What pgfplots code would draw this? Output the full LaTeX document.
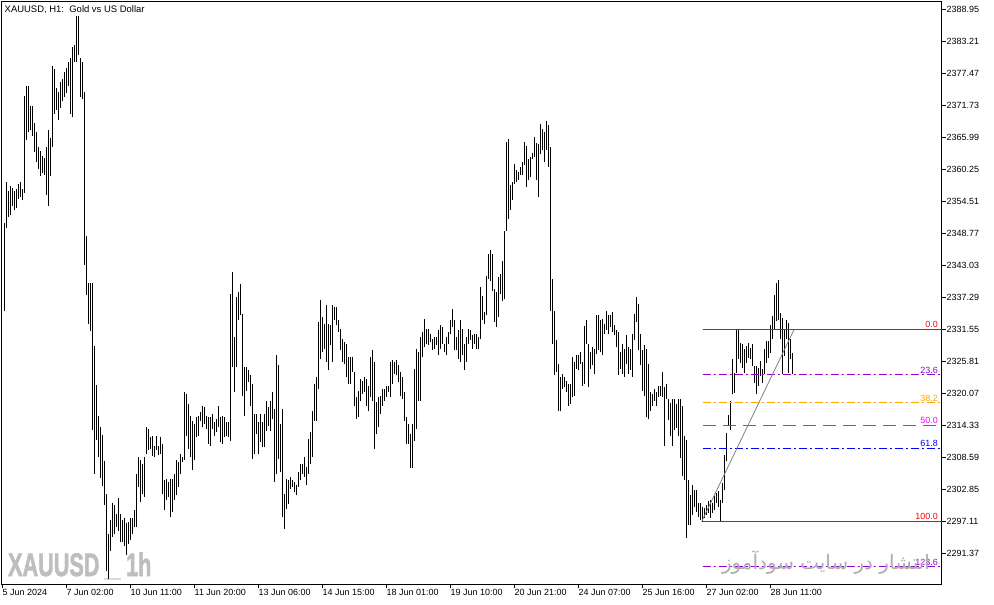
\documentclass[border=0pt]{standalone}
\usepackage{fontspec}
\setmainfont{Liberation Sans}
\newfontfamily\wmfont{Liberation Sans}[BoldFeatures={FakeBold=2}]
\newfontfamily\arabicfont[Script=Arabic]{DejaVu Sans}
\TeXXeTstate=1
\usepackage{pgfplots}
\usepackage{pgfplotstable}
\pgfplotsset{compat=1.18}

\definecolor{fibviolet}{RGB}{148,0,211}
\definecolor{fiborange}{RGB}{255,165,0}
\definecolor{fibmag}{RGB}{255,0,255}
\definecolor{wmgray}{RGB}{190,190,190}
\definecolor{wmfa}{RGB}{172,172,172}
\newcommand\labfont{\fontsize{9}{10}\selectfont}

% XAUUSD H1 bars, high / low, one row per hour (oldest first)
\pgfplotstableread[row sep=\\]{
hi lo\\
2350.7 2334.8\\ 2358.0 2349.7\\ 2356.3 2351.7\\ 2357.3 2352.0\\ 2357.0 2353.7\\ 2356.3 2353.0\\
2356.7 2353.4\\ 2357.7 2355.0\\ 2358.0 2355.3\\ 2356.7 2354.7\\ 2373.5 2356.0\\ 2375.2 2365.6\\
2375.2 2366.9\\ 2371.6 2367.3\\ 2371.6 2366.3\\ 2368.6 2363.3\\ 2366.9 2361.6\\ 2364.3 2360.3\\
2363.6 2359.0\\ 2362.6 2359.6\\ 2362.3 2359.3\\ 2364.3 2355.7\\ 2367.3 2353.7\\ 2365.9 2359.0\\
2378.8 2364.3\\ 2378.2 2370.2\\ 2374.9 2370.9\\ 2374.2 2369.2\\ 2375.9 2371.2\\ 2376.5 2372.6\\
2377.8 2373.2\\ 2378.5 2373.9\\ 2379.5 2375.2\\ 2380.2 2370.2\\ 2382.2 2369.6\\ 2382.5 2379.5\\
2387.8 2379.5\\ 2387.8 2380.8\\ 2380.2 2373.2\\ 2379.5 2372.9\\ 2374.2 2343.1\\ 2348.4 2337.8\\
2339.8 2332.5\\ 2339.8 2331.2\\ 2339.8 2313.6\\ 2328.5 2305.7\\ 2321.6 2311.7\\ 2316.0 2308.7\\
2314.0 2305.0\\ 2312.6 2303.4\\ 2308.0 2300.1\\ 2302.0 2288.2\\ 2294.8 2286.8\\ 2297.4 2291.8\\
2300.4 2294.4\\ 2300.1 2294.8\\ 2298.4 2296.1\\ 2301.4 2295.4\\ 2298.4 2293.4\\ 2297.4 2293.4\\
2297.8 2292.8\\ 2296.8 2291.1\\ 2297.1 2293.1\\ 2297.8 2293.8\\ 2297.8 2294.8\\ 2299.1 2296.1\\
2305.7 2296.1\\ 2308.6 2303.3\\ 2308.1 2300.6\\ 2307.5 2302.1\\ 2308.6 2301.5\\ 2314.0 2309.2\\
2313.7 2309.9\\ 2312.2 2310.1\\ 2312.5 2308.9\\ 2310.7 2308.6\\ 2312.5 2309.9\\ 2310.7 2309.0\\
2312.2 2309.2\\ 2311.0 2302.1\\ 2304.5 2299.1\\ 2304.8 2300.9\\ 2304.2 2301.5\\ 2304.8 2297.9\\
2304.8 2298.8\\ 2305.7 2300.9\\ 2308.1 2301.8\\ 2307.7 2303.3\\ 2309.2 2305.7\\ 2308.6 2307.7\\
2320.3 2308.1\\ 2320.0 2312.5\\ 2318.2 2310.1\\ 2316.1 2308.6\\ 2315.2 2306.3\\ 2314.6 2308.1\\
2315.8 2312.2\\ 2316.1 2312.5\\ 2316.7 2315.2\\ 2317.9 2314.0\\ 2317.6 2314.6\\ 2316.1 2313.7\\
2315.8 2311.0\\ 2315.8 2310.7\\ 2316.4 2313.7\\ 2314.9 2312.5\\ 2315.5 2313.1\\ 2317.9 2314.0\\
2315.8 2311.3\\ 2316.1 2311.0\\ 2315.8 2312.2\\ 2314.9 2312.5\\ 2314.9 2312.2\\ 2337.9 2311.6\\
2341.8 2324.8\\ 2330.2 2320.3\\ 2337.3 2324.8\\ 2338.2 2333.2\\ 2339.7 2334.1\\ 2334.4 2319.7\\
2324.8 2316.1\\ 2324.8 2320.6\\ 2324.2 2322.1\\ 2323.3 2317.9\\ 2321.8 2308.4\\ 2316.4 2309.3\\
2316.4 2312.8\\ 2314.9 2309.3\\ 2316.4 2311.3\\ 2315.0 2310.5\\ 2316.4 2310.4\\ 2318.8 2313.4\\
2317.6 2314.3\\ 2318.8 2313.4\\ 2320.3 2315.5\\ 2317.3 2304.2\\ 2326.9 2305.7\\ 2325.1 2308.4\\
2314.6 2305.9\\ 2317.3 2297.9\\ 2302.1 2295.8\\ 2304.8 2299.4\\ 2304.5 2300.3\\ 2305.1 2303.0\\
2304.5 2303.3\\ 2304.2 2302.4\\ 2303.6 2301.8\\ 2306.0 2303.3\\ 2307.5 2304.5\\ 2307.5 2305.7\\
2308.7 2305.1\\ 2306.9 2303.6\\ 2311.9 2305.7\\ 2313.1 2307.5\\ 2317.0 2308.7\\ 2321.8 2315.2\\
2323.0 2315.2\\ 2332.9 2320.9\\ 2336.8 2326.3\\ 2333.8 2327.5\\ 2332.6 2328.1\\ 2335.9 2325.7\\
2332.6 2324.2\\ 2332.3 2328.7\\ 2335.9 2325.7\\ 2335.6 2333.2\\ 2335.6 2332.3\\ 2333.2 2331.1\\
2331.7 2327.8\\ 2329.9 2325.7\\ 2329.3 2325.4\\ 2329.0 2323.0\\ 2326.6 2321.8\\ 2326.6 2321.8\\
2326.6 2323.9\\ 2323.9 2317.9\\ 2319.4 2315.5\\ 2320.6 2315.8\\ 2322.7 2318.8\\ 2322.4 2320.0\\
2323.0 2320.3\\ 2322.7 2317.9\\ 2321.5 2317.0\\ 2326.6 2319.4\\ 2327.8 2318.8\\ 2325.7 2310.2\\
2318.5 2312.8\\ 2319.4 2314.0\\ 2319.7 2316.4\\ 2320.9 2317.9\\ 2320.9 2318.8\\ 2321.5 2319.4\\
2321.5 2320.3\\ 2325.7 2319.4\\ 2326.0 2321.8\\ 2325.7 2323.6\\ 2326.0 2323.3\\ 2325.1 2322.1\\
2323.9 2319.7\\ 2323.0 2319.1\\ 2320.3 2315.2\\ 2315.8 2311.0\\ 2314.6 2311.0\\ 2312.8 2306.7\\
2314.6 2306.7\\ 2324.5 2311.6\\ 2328.1 2313.7\\ 2327.5 2318.8\\ 2330.2 2318.8\\ 2331.1 2326.6\\
2333.5 2328.4\\ 2331.7 2329.0\\ 2331.7 2328.7\\ 2330.8 2329.3\\ 2329.9 2327.8\\ 2330.2 2328.1\\
2330.2 2328.7\\ 2331.4 2326.9\\ 2332.3 2328.1\\ 2332.0 2329.0\\ 2329.0 2327.5\\ 2330.2 2326.9\\
2331.1 2329.0\\ 2333.2 2330.8\\ 2335.3 2332.0\\ 2333.2 2327.8\\ 2330.2 2327.8\\ 2331.4 2326.3\\
2333.2 2325.7\\ 2331.7 2326.9\\ 2329.0 2324.2\\ 2330.2 2325.7\\ 2331.7 2329.0\\ 2331.4 2329.6\\
2330.5 2328.1\\ 2330.8 2329.0\\ 2330.8 2328.1\\ 2330.2 2328.1\\ 2339.1 2329.9\\ 2337.6 2333.2\\
2334.6 2332.6\\ 2341.2 2334.1\\ 2345.1 2340.6\\ 2345.8 2340.3\\ 2345.1 2338.5\\ 2338.8 2332.9\\
2338.2 2332.0\\ 2340.9 2333.8\\ 2341.5 2337.9\\ 2343.9 2336.7\\ 2349.3 2337.0\\ 2365.1 2349.3\\
2365.7 2351.4\\ 2357.4 2352.9\\ 2358.0 2354.7\\ 2361.3 2357.7\\ 2360.1 2358.0\\ 2359.8 2358.3\\
2360.7 2359.2\\ 2361.6 2359.2\\ 2365.1 2361.0\\ 2364.5 2357.1\\ 2362.2 2358.3\\ 2362.5 2358.9\\
2363.2 2362.2\\ 2366.0 2362.5\\ 2365.0 2358.3\\ 2364.9 2355.3\\ 2368.4 2363.1\\ 2367.5 2363.7\\
2366.9 2361.6\\ 2369.0 2363.8\\ 2368.3 2360.7\\ 2364.2 2334.9\\ 2340.6 2329.0\\ 2334.9 2323.3\\
2329.6 2323.9\\ 2325.4 2317.0\\ 2323.0 2317.0\\ 2323.6 2320.9\\ 2323.0 2321.2\\ 2322.4 2320.3\\
2321.8 2317.9\\ 2321.8 2318.2\\ 2326.6 2319.4\\ 2325.7 2319.7\\ 2326.9 2324.5\\ 2326.9 2324.2\\
2327.5 2325.4\\ 2325.7 2321.5\\ 2332.1 2321.8\\ 2333.2 2329.0\\ 2329.0 2321.2\\ 2327.5 2324.5\\
2328.4 2325.1\\ 2328.1 2323.6\\ 2334.1 2327.2\\ 2334.1 2327.8\\ 2333.2 2327.5\\ 2333.5 2326.9\\
2332.6 2330.8\\ 2334.9 2331.4\\ 2334.1 2330.8\\ 2334.1 2332.0\\ 2334.7 2331.1\\ 2332.3 2330.5\\
2331.4 2328.4\\ 2331.1 2323.3\\ 2327.5 2324.5\\ 2329.0 2323.6\\ 2328.1 2323.0\\ 2330.5 2325.4\\
2328.4 2323.6\\ 2328.1 2324.2\\ 2330.8 2323.0\\ 2334.4 2329.6\\ 2337.4 2332.9\\ 2336.2 2327.8\\
2330.8 2325.1\\ 2327.8 2320.6\\ 2328.7 2319.7\\ 2328.1 2315.8\\ 2325.4 2315.5\\ 2320.3 2317.0\\
2320.0 2317.9\\ 2320.9 2318.8\\ 2320.3 2317.9\\ 2321.5 2319.4\\ 2321.5 2319.7\\ 2323.9 2319.4\\
2321.2 2310.7\\ 2321.7 2319.0\\ 2319.0 2315.4\\ 2318.4 2312.4\\ 2319.0 2310.6\\ 2319.0 2313.6\\
2318.1 2313.9\\ 2319.0 2312.4\\ 2319.0 2308.5\\ 2317.8 2305.2\\ 2312.4 2304.6\\ 2311.8 2294.1\\
2304.6 2296.5\\ 2301.9 2296.5\\ 2303.7 2298.3\\ 2302.8 2299.8\\ 2302.8 2298.9\\ 2300.4 2298.0\\
2300.4 2297.4\\ 2299.8 2297.1\\ 2299.5 2297.7\\ 2300.1 2298.3\\ 2300.7 2298.6\\ 2301.0 2297.7\\
2300.4 2298.6\\ 2301.6 2299.2\\ 2302.2 2300.4\\ 2302.5 2299.8\\ 2301.0 2297.1\\ 2304.0 2300.4\\
2309.1 2302.8\\ 2313.0 2307.9\\ 2316.3 2314.2\\ 2318.7 2313.6\\ 2326.2 2319.9\\ 2323.8 2320.2\\
2331.6 2323.8\\ 2331.6 2326.2\\ 2329.2 2325.6\\ 2328.9 2324.7\\ 2328.0 2323.8\\ 2328.6 2325.6\\
2329.2 2326.5\\ 2328.3 2326.2\\ 2328.9 2325.0\\ 2325.0 2322.0\\ 2325.0 2319.9\\ 2324.7 2321.4\\
2325.9 2323.2\\ 2324.4 2322.0\\ 2328.0 2323.5\\ 2329.5 2325.6\\ 2329.5 2326.5\\ 2332.4 2327.4\\
2333.9 2329.8\\ 2337.8 2331.6\\ 2339.9 2333.0\\ 2340.5 2333.3\\ 2334.5 2329.8\\ 2333.6 2323.5\\
2331.6 2326.8\\ 2333.3 2329.8\\ 2332.7 2323.8\\ 2329.8 2326.2\\ 2327.4 2323.5\\
}\bars

\begin{document}
\begin{tikzpicture}
\path[use as bounding box, fill=white] (0,0) rectangle (994bp,605bp);
% background watermark
\node[anchor=base west, inner sep=0pt, text=wmgray, xscale=0.666,
      font=\wmfont\fontsize{32.6}{34}\selectfont\bfseries] at (8bp,29bp) {XAUUSD};
\node[anchor=base west, inner sep=0pt, text=wmgray, xscale=0.666,
      font=\wmfont\fontsize{32.6}{34}\selectfont\bfseries] at (126bp,29bp) {1h};
\fill[black!14] (104bp,25bp) rectangle (121bp,27bp);

\begin{axis}[
  at={(1.5bp,20.5bp)}, anchor=south west,
  scale only axis, width=940bp, height=583bp,
  xmin=-0.5, xmax=469.5, ymin=2285.81, ymax=2390.38,
  axis line style={black, line width=1bp},
  tick align=outside, xtick pos=left, ytick pos=right,
  major tick length=4bp,
  tick style={black, line width=1bp},
  xtick={0,32,64,96,128,160,192,224,256,288,320,352,384},
  xticklabels={5 Jun 2024,7 Jun 02:00,10 Jun 11:00,11 Jun 20:00,13 Jun 06:00,14 Jun 15:00,18 Jun 01:00,19 Jun 10:00,20 Jun 21:00,24 Jun 07:00,25 Jun 16:00,27 Jun 02:00,28 Jun 11:00},
  xticklabel style={anchor=north west, inner sep=1bp, xshift=-1bp, font=\labfont},
  ytick={2291.37,2297.11,2302.85,2308.59,2314.33,2320.07,2325.81,2331.55,2337.29,2343.03,2348.77,2354.51,2360.25,2365.99,2371.73,2377.47,2383.21,2388.95},
  yticklabels={2291.37,2297.11,2302.85,2308.59,2314.33,2320.07,2325.81,2331.55,2337.29,2343.03,2348.77,2354.51,2360.25,2365.99,2371.73,2377.47,2383.21,2388.95},
  yticklabel pos=right,
  yticklabel style={anchor=west, inner sep=1bp, font=\labfont},
]
% price bars (high-low)
\addplot[draw=none, no markers,
  error bars/.cd, y dir=plus, y explicit, error mark=none,
  error bar style={draw=black, line width=1.1bp}]
  table[x expr=\coordindex+1, y=lo, y error plus expr=\thisrow{hi}-\thisrow{lo}] {\bars};

% Fibonacci retracement levels
\addplot[red, line width=1bp] coordinates {(350,2331.55) (469.5,2331.55)};
\addplot[fibviolet, line width=1bp, dash pattern=on 8bp off 3bp on 2bp off 3bp] coordinates {(350,2323.42) (469.5,2323.42)};
\addplot[fiborange, line width=1bp, dash pattern=on 8bp off 3bp on 2bp off 3bp] coordinates {(350,2318.39) (469.5,2318.39)};
\addplot[fibmag, line width=1bp, dash pattern=on 13bp off 7bp] coordinates {(350,2314.33) (469.5,2314.33)};
\addplot[blue, line width=1bp, dash pattern=on 8bp off 3bp on 2bp off 3bp] coordinates {(350,2310.27) (469.5,2310.27)};
\addplot[red, line width=1bp] coordinates {(350,2297.11) (469.5,2297.11)};
\addplot[fibviolet, line width=1bp, dash pattern=on 8bp off 3bp on 2bp off 3bp] coordinates {(350,2288.98) (469.5,2288.98)};
\addplot[gray, line width=0.8bp] coordinates {(349.6,2297.11) (395.8,2331.55)};

\node[anchor=south east, inner sep=0pt, yshift=1.5bp, text=red, font=\labfont] at (axis cs:467.8,2331.55) {0.0};
\node[anchor=south east, inner sep=0pt, yshift=1.5bp, text=fibviolet, font=\labfont] at (axis cs:467.8,2323.42) {23.6};
\node[anchor=south east, inner sep=0pt, yshift=1.5bp, text=fiborange, font=\labfont] at (axis cs:467.8,2318.39) {38.2};
\node[anchor=south east, inner sep=0pt, yshift=1.5bp, text=fibmag, font=\labfont] at (axis cs:467.8,2314.33) {50.0};
\node[anchor=south east, inner sep=0pt, yshift=1.5bp, text=blue, font=\labfont] at (axis cs:467.8,2310.27) {61.8};
\node[anchor=south east, inner sep=0pt, yshift=1.5bp, text=red, font=\labfont] at (axis cs:467.8,2297.11) {100.0};
\node[anchor=south east, inner sep=0pt, yshift=1.5bp, text=fibviolet, font=\labfont] at (axis cs:467.8,2288.98) {123.6};
\end{axis}

\node[anchor=west, inner sep=0pt, font=\fontsize{9.5}{11}\selectfont] at (4.5bp,595.5bp) {XAUUSD, H1:\ \ Gold vs US Dollar};
\node[inner sep=0pt, text=wmfa, font=\fontsize{20}{22}\selectfont] at (826bp,42bp) {\arabicfont\beginR انتشار در سایت سودآموز\endR};
\end{tikzpicture}
\end{document}
